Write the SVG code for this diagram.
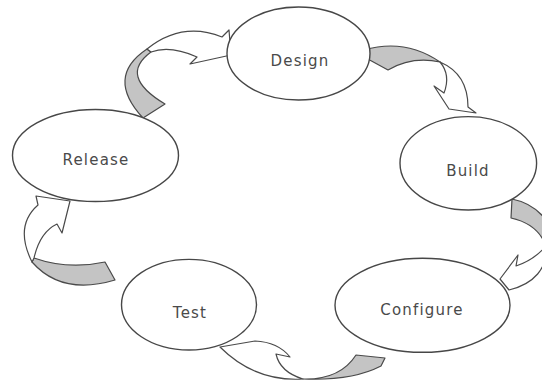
<svg xmlns="http://www.w3.org/2000/svg" width="542" height="385" viewBox="0 0 542 385">
<style>
.bg{fill:#ffffff}
.node ellipse{fill:#ffffff;stroke:#474747;stroke-width:1.4}
.node text{font-family:"DejaVu Sans","Liberation Sans",sans-serif;font-size:15px;fill:#4a4a4a;text-anchor:middle;letter-spacing:1.2px}
.back{fill:#c4c4c4;stroke:#4a4a4a;stroke-width:1.2;stroke-linejoin:round}
.front{fill:#ffffff;stroke:#4a4a4a;stroke-width:1.2;stroke-linejoin:round}
</style>
<rect class="bg" x="0" y="0" width="542" height="385"/>
<g id="connectors">
  <g id="arrow-release-design">
    <path class="back" d="M143,118 Q105,77 147,49 L151,52 Q118,76 165,104 Z"/>
    <path class="front" d="M147,49 Q182,21 222,37 L229,30 L231,55 L190,64 L197,57 Q170,45 151,52 Z"/>
  </g>
  <g id="arrow-design-build">
    <path class="back" d="M364,50 Q405,38 440,62 Q412,56 388,70 L366,58 Z"/>
    <path class="front" d="M440,62 Q468,74 468,107 L476,113 L449,109 L434,86 L444,93 Q451,75 440,62 Z"/>
  </g>
  <g id="arrow-build-configure">
    <path class="back" d="M512,199 Q537,204 550,226 L546,246 Q538,224 511,218 Z"/>
    <path class="front" d="M546,246 C548,268 534,284 509,290 L500,279 L518,255 L516,266 Q534,260 546,246 Z"/>
  </g>
  <g id="arrow-configure-test">
    <path class="back" d="M356,355 L385,358 L381,366 Q352,381 303,379 Q340,380 356,355 Z"/>
    <path class="front" d="M303,379 Q255,382 220,347 L255,341 Q278,342 290,357 L276,354 Q280,372 303,379 Z"/>
  </g>
  <g id="arrow-test-release">
    <path class="back" d="M105,262 L115,280 Q62,296 32,262 L34,258 Q68,270 105,262 Z"/>
    <path class="front" d="M32,262 Q14,226 38,205 L36,196 L70,201 L62,233 L57,224 Q40,232 34,258 Z"/>
  </g>
</g>
<g id="node-design" class="node">
  <ellipse cx="298.5" cy="53.5" rx="71.5" ry="46.5"/>
  <text x="300" y="66">Design</text>
</g>
<g id="node-build" class="node">
  <ellipse cx="468.3" cy="163.3" rx="68.3" ry="46.7"/>
  <text x="468" y="176">Build</text>
</g>
<g id="node-configure" class="node">
  <ellipse cx="422.5" cy="305.3" rx="87.5" ry="47"/>
  <text x="422" y="315">Configure</text>
</g>
<g id="node-test" class="node">
  <ellipse cx="189" cy="304.7" rx="67.5" ry="45.3"/>
  <text x="190" y="318">Test</text>
</g>
<g id="node-release" class="node">
  <ellipse cx="95.5" cy="155.5" rx="83" ry="46"/>
  <text x="96" y="165">Release</text>
</g>
</svg>
